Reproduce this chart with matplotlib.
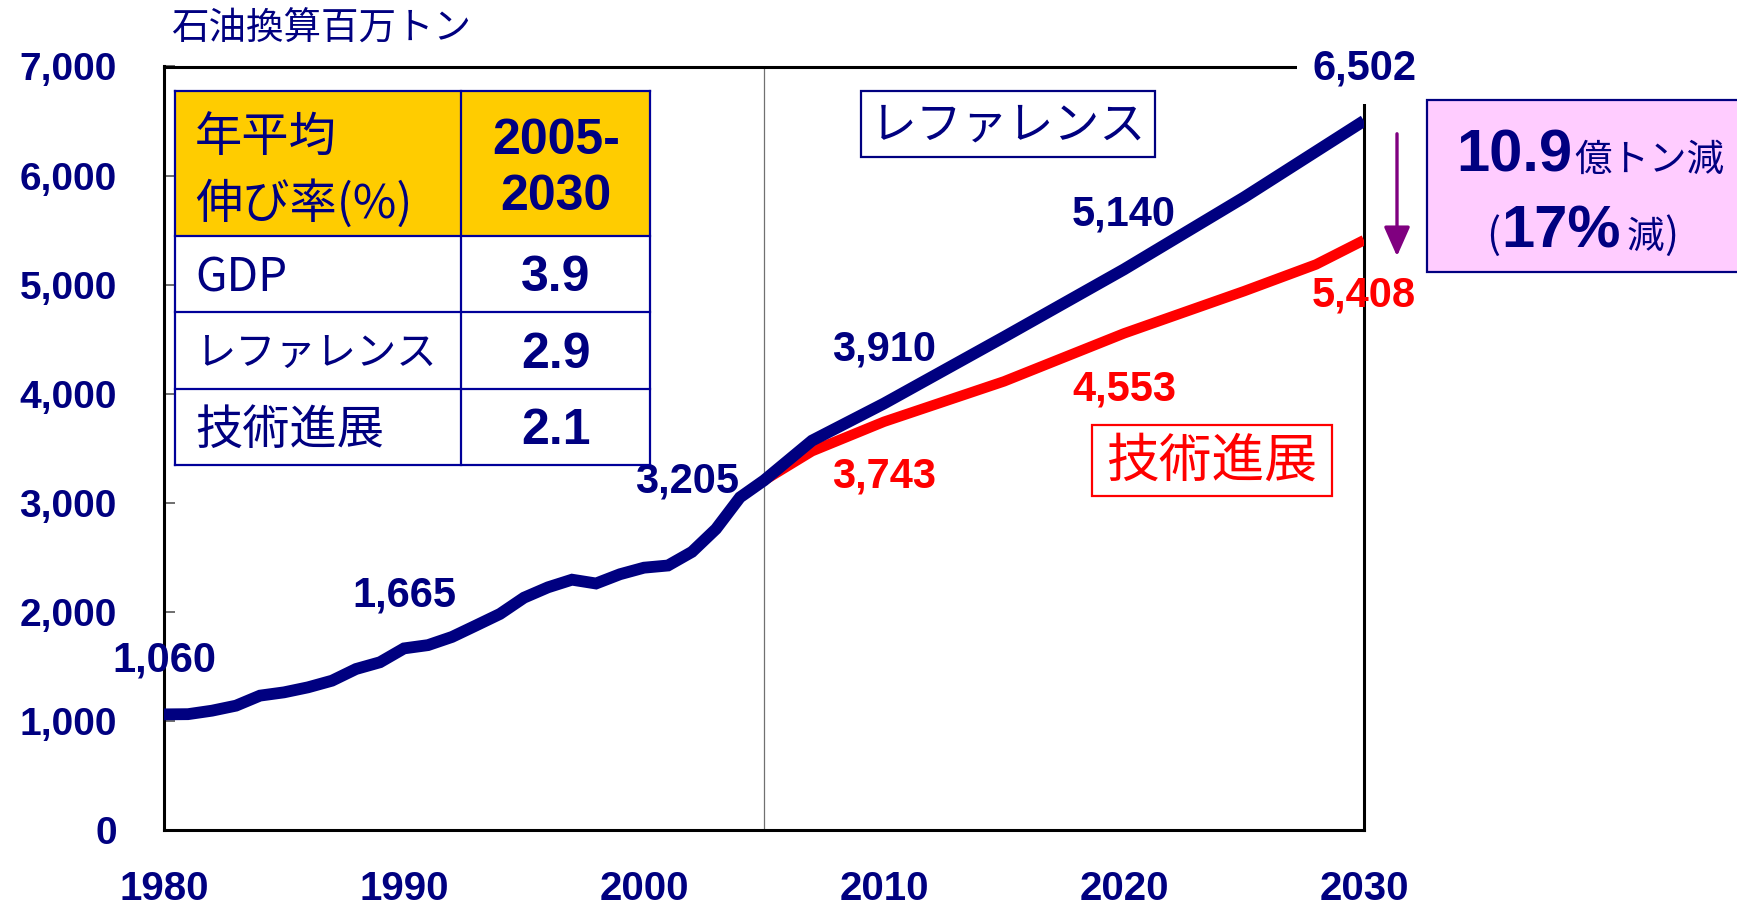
import matplotlib
matplotlib.use("Agg")
import matplotlib.pyplot as plt
from matplotlib.patches import Rectangle, FancyArrowPatch
from matplotlib.ticker import FuncFormatter

# ---------------- data ----------------
hist_years = list(range(1980, 2006))
hist_values = [1060, 1062, 1094, 1140, 1232, 1262, 1308, 1369, 1476, 1538,
               1665, 1695, 1770, 1875, 1981, 2130, 2225, 2295, 2260, 2345,
               2405, 2425, 2550, 2760, 3050, 3205]
proj_years_ref = [2005, 2007, 2010, 2015, 2020, 2025, 2030]
ref_values = [3205, 3570, 3910, 4520, 5140, 5800, 6502]
proj_years_tech = [2005, 2007, 2010, 2015, 2020, 2025, 2028, 2030]
tech_values = [3205, 3473, 3743, 4113, 4553, 4940, 5185, 5408]

x_ticks = [1980, 1990, 2000, 2010, 2020, 2030]
y_ticks = [0, 1000, 2000, 3000, 4000, 5000, 6000, 7000]

unit_label = "石油換算百万トン"
table_header = ["年平均\n伸び率(%)", "2005-\n2030"]
table_rows = ["GDP", "レファレンス", "技術進展"]
table_vals = ["3.9", "2.9", "2.1"]

# labels: (text, x, y)
ref_labels = [("1,060", 1980, 1558), ("1,665", 1990, 2146), ("3,205", 2001.8, 3193),
              ("3,910", 2010, 4405), ("5,140", 2020, 5645)]
tech_labels = [("3,743", 2010, 3239), ("4,553", 2020, 4038), ("5,408", 2030, 4901)]

NAVY = "#000080"
RED = "#FF0000"
NUM = "Liberation Sans"
JP = ["Noto Sans CJK JP", "DejaVu Sans"]

W, H = 1737, 910
fig = plt.figure(figsize=(W / 100, H / 100), dpi=100)

def fx(px):
    return px / W

def fy(py):
    return 1 - py / H

ax_l, ax_r, ax_t, ax_b = 164, 1364, 66.5, 830
ax = fig.add_axes([fx(ax_l), fy(ax_b), (ax_r - ax_l) / W, (ax_b - ax_t) / H])
ax.set_xlim(1980, 2030)
ax.set_ylim(0, 7000)

# lines
ax.axvline(2005, color="#707070", lw=0.9, zorder=1)
ax.plot(proj_years_tech, tech_values, color=RED, lw=7.5, solid_joinstyle="miter",
        solid_capstyle="butt", zorder=3)
ax.plot(hist_years + proj_years_ref[1:], hist_values + ref_values[1:], color=NAVY,
        lw=8.5, solid_joinstyle="miter", solid_capstyle="butt", zorder=4)

# axes style
for s in ax.spines.values():
    s.set_color("black")
    s.set_linewidth(2.2)
ax.set_xticks(x_ticks)
ax.set_yticks(y_ticks)
ax.yaxis.set_major_formatter(FuncFormatter(lambda v, p: f"{int(v):,}"))
ax.tick_params(axis="y", direction="in", length=8, width=1.2, color="#555555",
               pad=34, labelcolor=NAVY)
ax.tick_params(axis="x", length=0, pad=29, labelcolor=NAVY)
for lab in ax.get_yticklabels():
    lab.set_fontfamily(NUM)
    lab.set_fontweight("bold")
    lab.set_fontsize(28)
for lab in ax.get_xticklabels():
    lab.set_fontfamily(NUM)
    lab.set_fontweight("bold")
    lab.set_fontsize(29)

# data labels
for t, x, y in ref_labels:
    ax.text(x, y, t, color=NAVY, fontsize=30, fontweight="bold", family=NUM,
            ha="center", va="center", zorder=6)
for t, x, y in tech_labels:
    ax.text(x, y, t, color=RED, fontsize=30, fontweight="bold", family=NUM,
            ha="center", va="center", zorder=6)
ax.text(2030, 6980, "6,502", color=NAVY, fontsize=30, fontweight="bold", family=NUM,
        ha="center", va="center", zorder=7,
        bbox=dict(boxstyle="square,pad=0.36", fc="white", ec="none"))

# unit label
fig.text(fx(171), fy(29), unit_label, family=JP, fontsize=27, color=NAVY,
         ha="left", va="center")

# table
tx0, tx1, tx2 = 175, 461, 650
tys = [91, 236, 312, 389, 465]
tcol = "#000099"
fig.add_artist(Rectangle((fx(tx0), fy(tys[-1])), (tx2 - tx0) / W, (tys[-1] - tys[0]) / H,
                         transform=fig.transFigure, fc="white", ec="none", zorder=8))
fig.add_artist(Rectangle((fx(tx0), fy(tys[1])), (tx2 - tx0) / W, (tys[1] - tys[0]) / H,
                         transform=fig.transFigure, fc="#FFCC00", ec="none", zorder=8))
for yy in tys:
    fig.add_artist(plt.Line2D([fx(tx0), fx(tx2)], [fy(yy), fy(yy)], color=tcol, lw=1.6,
                              transform=fig.transFigure, zorder=9))
for xx in (tx0, tx1, tx2):
    fig.add_artist(plt.Line2D([fx(xx), fx(xx)], [fy(tys[0]), fy(tys[-1])], color=tcol, lw=1.6,
                              transform=fig.transFigure, zorder=9))
hdr_lines = table_header[0].split("\n")
fig.text(fx(195), fy(139), hdr_lines[0], family=JP, fontsize=34, color=NAVY,
         ha="left", va="center", zorder=10)
fig.text(fx(195), fy(204), hdr_lines[1], family=JP, fontsize=34, color=NAVY,
         ha="left", va="center", zorder=10)
yr_lines = table_header[1].split("\n")
fig.text(fx(556), fy(141), yr_lines[0], family=NUM, fontsize=36, fontweight="bold",
         color=NAVY, ha="center", va="center", zorder=10)
fig.text(fx(556), fy(197), yr_lines[1], family=NUM, fontsize=36, fontweight="bold",
         color=NAVY, ha="center", va="center", zorder=10)
row_sizes = [33, 29, 34]
for i, (name, val) in enumerate(zip(table_rows, table_vals)):
    yc = (tys[i + 1] + tys[i + 2]) / 2 + 4
    fig.text(fx(195), fy(yc), name, family=JP, fontsize=row_sizes[i], color=NAVY,
             ha="left", va="center", zorder=10)
    fig.text(fx(556), fy(yc), val, family=NUM, fontsize=36, fontweight="bold",
             color=NAVY, ha="center", va="center", zorder=10)

# series name boxes
fig.add_artist(Rectangle((fx(861), fy(157)), (1155 - 861) / W, (157 - 91) / H,
                         transform=fig.transFigure, fc="white", ec=NAVY, lw=1.6, zorder=8))
fig.text(fx(1008), fy(125), "レファレンス", family=JP, fontsize=33, color=NAVY,
         ha="center", va="center", zorder=10)
fig.add_artist(Rectangle((fx(1092), fy(496)), (1332 - 1092) / W, (496 - 425) / H,
                         transform=fig.transFigure, fc="white", ec=RED, lw=1.6, zorder=8))
fig.text(fx(1212), fy(461), "技術進展", family=JP, fontsize=38, color=RED,
         ha="center", va="center", zorder=10)

# arrow
fig.add_artist(FancyArrowPatch((fx(1397), fy(131)), (fx(1397), fy(259)),
                               transform=fig.transFigure, arrowstyle="-|>,head_length=0.9,head_width=0.4",
                               mutation_scale=20, color="#800080", lw=2.4, zorder=9))

# pink box
fig.add_artist(Rectangle((fx(1427), fy(272)), (1745 - 1427) / W, (272 - 100) / H,
                         transform=fig.transFigure, fc="#FFCCFF", ec=NAVY, lw=1.6, zorder=8))
fig.text(fx(1572), fy(171), "10.9", family=NUM, fontsize=43, fontweight="bold",
         color=NAVY, ha="right", va="baseline", zorder=10)
fig.text(fx(1574), fy(171), "億トン減", family=JP, fontsize=27, color=NAVY,
         ha="left", va="baseline", zorder=10)
fig.text(fx(1500), fy(248), "(", family=JP, fontsize=30, color=NAVY,
         ha="right", va="baseline", zorder=10)
fig.text(fx(1501), fy(248), "17%", family=NUM, fontsize=43, fontweight="bold",
         color=NAVY, ha="left", va="baseline", zorder=10)
fig.text(fx(1627), fy(248), "減", family=JP, fontsize=27, color=NAVY,
         ha="left", va="baseline", zorder=10)
fig.text(fx(1664), fy(248), ")", family=JP, fontsize=30, color=NAVY,
         ha="left", va="baseline", zorder=10)

fig.savefig("out.png", dpi=100)
